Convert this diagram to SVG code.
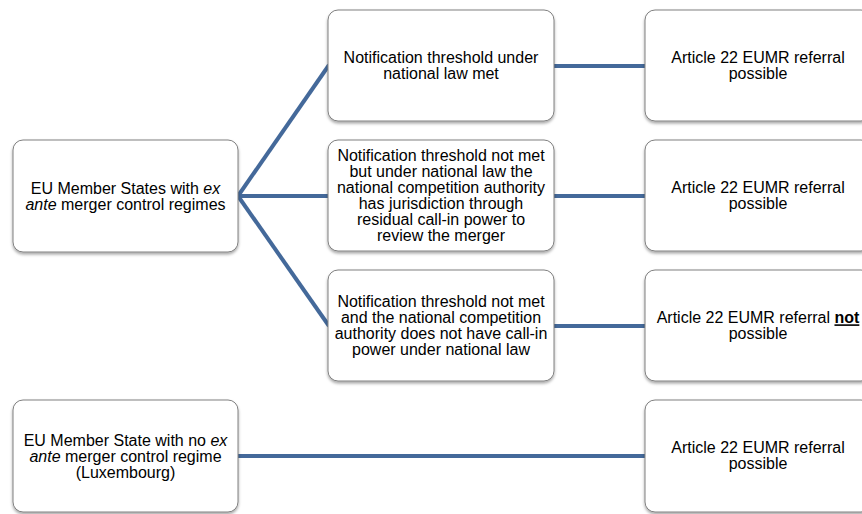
<svg xmlns="http://www.w3.org/2000/svg" width="862" height="514" viewBox="0 0 862 514">
<defs>
<filter id="sh" x="-10%" y="-10%" width="120%" height="125%">
<feDropShadow dx="0" dy="2" stdDeviation="1.5" flood-color="#000" flood-opacity="0.35"/>
</filter>
<style>
.box{fill:#fff;stroke:#808080;stroke-width:1;filter:url(#sh)}
.t{font-family:"Liberation Sans",Arial,sans-serif;font-size:16px;fill:#000;text-anchor:middle}
.c{stroke:#44699A;stroke-width:4;fill:none;stroke-linecap:butt}
</style>
</defs>
<rect width="862" height="514" fill="#fff"/>
<g id="connectors">
<line class="c" x1="238" y1="196" x2="329" y2="65"/>
<line class="c" x1="238" y1="196" x2="329" y2="196"/>
<line class="c" x1="238" y1="196" x2="329" y2="326"/>
<line class="c" x1="554" y1="66" x2="646" y2="66"/>
<line class="c" x1="554" y1="196" x2="646" y2="196"/>
<line class="c" x1="554" y1="326" x2="646" y2="326"/>
<line class="c" x1="238" y1="456" x2="646" y2="456"/>
</g>
<g id="n-exante">
<rect class="box" x="13" y="140" width="225" height="112" rx="10"/>
<text class="t" x="125.5" y="193.5">EU Member States with <tspan font-style="italic">ex</tspan></text>
<text class="t" x="125.5" y="209.5"><tspan font-style="italic">ante</tspan> merger control regimes</text>
</g>
<g id="n-met">
<rect class="box" x="328" y="10" width="226" height="111" rx="10"/>
<text class="t" x="441" y="63.3">Notification threshold under</text>
<text class="t" x="441" y="79.3">national law met</text>
</g>
<g id="n-callin">
<rect class="box" x="328" y="140" width="226" height="111" rx="10"/>
<text class="t" x="441" y="161">Notification threshold not met</text>
<text class="t" x="441" y="177">but under national law the</text>
<text class="t" x="441" y="193">national competition authority</text>
<text class="t" x="441" y="209">has jurisdiction through</text>
<text class="t" x="441" y="225">residual call-in power to</text>
<text class="t" x="441" y="241">review the merger</text>
</g>
<g id="n-nocallin">
<rect class="box" x="328" y="270" width="226" height="111" rx="10"/>
<text class="t" x="441" y="307.2">Notification threshold not met</text>
<text class="t" x="441" y="323.2">and the national competition</text>
<text class="t" x="441" y="339.2">authority does not have call-in</text>
<text class="t" x="441" y="355.2">power under national law</text>
</g>
<g id="r1">
<rect class="box" x="645" y="10" width="226" height="111" rx="10"/>
<text class="t" x="758" y="63.3">Article 22 EUMR referral</text>
<text class="t" x="758" y="79.3">possible</text>
</g>
<g id="r2">
<rect class="box" x="645" y="140" width="226" height="111" rx="10"/>
<text class="t" x="758" y="193.3">Article 22 EUMR referral</text>
<text class="t" x="758" y="209.3">possible</text>
</g>
<g id="r3">
<rect class="box" x="645" y="270" width="226" height="111" rx="10"/>
<text class="t" x="758" y="323.3">Article 22 EUMR referral <tspan font-weight="bold" text-decoration="underline">not</tspan></text>
<text class="t" x="758" y="339.3">possible</text>
</g>
<g id="n-lux">
<rect class="box" x="13" y="400" width="225" height="112" rx="10"/>
<text class="t" x="125.5" y="445.5">EU Member State with no <tspan font-style="italic">ex</tspan></text>
<text class="t" x="125.5" y="461.5"><tspan font-style="italic">ante</tspan> merger control regime</text>
<text class="t" x="125.5" y="477.5">(Luxembourg)</text>
</g>
<g id="r4">
<rect class="box" x="645" y="400" width="226" height="112" rx="10"/>
<text class="t" x="758" y="453.3">Article 22 EUMR referral</text>
<text class="t" x="758" y="469.3">possible</text>
</g>
</svg>
